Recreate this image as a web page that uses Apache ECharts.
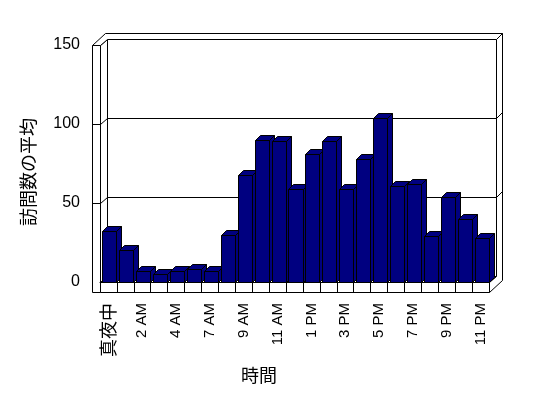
<!DOCTYPE html>
<html>
<head>
<meta charset="utf-8">
<script src="https://cdn.jsdelivr.net/npm/echarts@6/dist/echarts.min.js"></script>
<style>
html, body { margin: 0; padding: 0; background: #fff; }
#main { width: 548px; height: 398px; }
</style>
</head>
<body>
<div id="main"></div>
<script>
// 時間帯ごとの訪問数の平均
var hours = ['真夜中', '1 AM', '2 AM', '3 AM', '4 AM', '5 AM', '7 AM', '8 AM', '9 AM', '10 AM', '11 AM', '正午',
             '1 PM', '2 PM', '3 PM', '4 PM', '5 PM', '6 PM', '7 PM', '8 PM', '9 PM', '10 PM', '11 PM'];
var visits = [32, 20, 7, 5, 7, 8, 7, 30, 68, 90, 89, 59, 81, 89, 59, 78, 104, 61, 62, 29, 54, 40, 28];
var gridValues = [50, 100];

var FONT = '"Liberation Sans", "Noto Sans CJK JP", sans-serif';
var CJK = '"Noto Sans CJK JP", sans-serif';
var G = { left: 100, top: 45, width: 389, height: 237 };

var myChart = echarts.init(document.getElementById('main'));

var option = {
    animation: false,
    grid: { left: G.left, top: G.top, width: G.width, height: G.height, outerBoundsMode: 'none' },
    xAxis: {
        type: 'category',
        data: hours,
        z: 6,
        axisLine: { show: true, lineStyle: { color: '#000', width: 1 } },
        axisTick: { show: true, length: 10, interval: 0, lineStyle: { color: '#000' } },
        axisLabel: {
            interval: 1, rotate: 90, margin: 21, fontSize: 15, color: '#000', fontFamily: FONT,
            formatter: function (v) { return /[^\x00-\x7f]/.test(v) ? '{c|' + v + '}' : v; },
            rich: { c: { fontSize: 18, fontFamily: CJK, color: '#000' } }
        },
        splitLine: { show: false }
    },
    yAxis: {
        type: 'value',
        min: 0, max: 150, interval: 50,
        axisLine: { show: false },
        axisTick: { show: false },
        splitLine: { show: false },
        axisLabel: { margin: 20, fontSize: 16, color: '#000', fontFamily: FONT }
    },
    series: [{
        type: 'custom',
        z: 5,
        data: hours.map(function (h, i) { return [h, visits[i]]; }),
        renderItem: function (params, api) {
            var top = api.coord([api.value(0), api.value(1)]);
            var base = api.coord([api.value(0), 0]);
            var w = api.size([1, 0])[0] * 0.83;
            var x1 = Math.round(top[0] - w / 2 + 1) + 0.5;
            var x2 = Math.round(top[0] + w / 2 + 1) + 0.5;
            var yt = Math.round(top[1]) + 0.5;
            var yb = Math.round(base[1]) + 0.5;
            var dx = 5, dy = -5;
            var st = { fill: '#000080', stroke: '#000', lineWidth: 1 };
            return {
                type: 'group',
                children: [
                    { type: 'polygon', shape: { points: [[x2, yt], [x2 + dx, yt + dy], [x2 + dx, yb + dy], [x2, yb]] }, style: st },
                    { type: 'polygon', shape: { points: [[x1, yt], [x2, yt], [x2 + dx, yt + dy], [x1 + dx, yt + dy]] }, style: st },
                    { type: 'rect', shape: { x: x1, y: yt, width: x2 - x1, height: yb - yt }, style: st }
                ]
            };
        }
    }]
};

myChart.setOption(option);

// walls and floor of the 3D box
function p(x, y) { return [Math.round(x) + 0.5, Math.round(y) + 0.5]; }
function poly(pts) {
    return { type: 'polygon', z: 0, shape: { points: pts.map(function (a) { return p(a[0], a[1]); }) },
             style: { fill: '#fff', stroke: '#000', lineWidth: 1 } };
}
var L = G.left, R = G.left + G.width, T = G.top, B = G.top + G.height;
var d1 = [7, -6], d2 = [13, -12], th = 8, fl = 10;

var els = [
    poly([[L + d1[0], T + d1[1]], [R + d1[0], T + d1[1]], [R + d1[0], B + d1[1]], [L + d1[0], B + d1[1]]]),
    poly([[L, T], [L + d1[0], T + d1[1]], [L + d1[0], B + d1[1]], [L, B]]),
    poly([[L, B], [R, B], [R + d1[0], B + d1[1]], [L + d1[0], B + d1[1]]]),
    poly([[R, B], [R + d1[0], B + d1[1]], [R + d1[0], T + d1[1]], [R + d2[0], T + d2[1]], [R + d2[0], B + fl + d2[1]], [R, B + fl]]),
    poly([[L - th, T], [L, T], [L + d1[0], T + d1[1]], [R + d1[0], T + d1[1]], [R + d2[0], T + d2[1]], [L - th + d2[0], T + d2[1]]]),
    poly([[L - th, T], [L, T], [L, B + fl], [L - th, B + fl]]),
    poly([[L, B], [R, B], [R, B + fl], [L, B + fl]])
];

gridValues.forEach(function (v) {
    var y = myChart.convertToPixel({ yAxisIndex: 0 }, v);
    els.push({
        type: 'polyline', z: 1,
        shape: { points: [p(L - th, y), p(L, y), p(L + d1[0], y + d1[1]), p(R + d1[0], y + d1[1]), p(R + d2[0], y + d2[1])] },
        style: { stroke: '#000', lineWidth: 1, fill: null }
    });
});

els.push({
    type: 'text', z: 1, x: 28, y: 172, rotation: Math.PI / 2,
    style: { text: '訪問数の平均', fontSize: 18, fontFamily: CJK, fill: '#000', align: 'center', verticalAlign: 'middle' }
});
els.push({
    type: 'text', z: 1, x: 259, y: 375,
    style: { text: '時間', fontSize: 18, fontFamily: CJK, fill: '#000', align: 'center', verticalAlign: 'middle' }
});

myChart.setOption({ graphic: { elements: els } });
</script>
</body>
</html>
